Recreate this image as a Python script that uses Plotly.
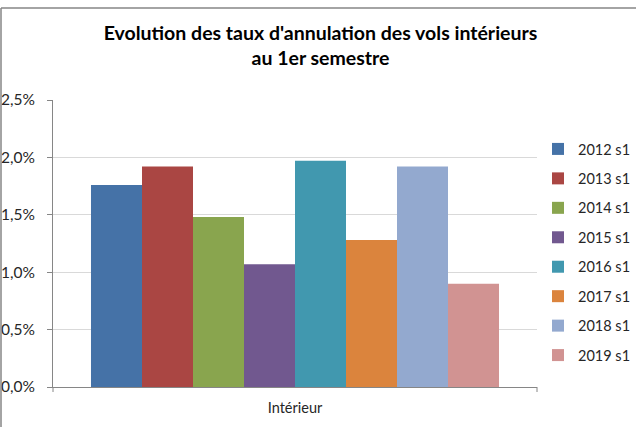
import plotly.graph_objects as go

categories = ["Intérieur"]
series_names = ["2012 s1", "2013 s1", "2014 s1", "2015 s1", "2016 s1", "2017 s1", "2018 s1", "2019 s1"]
series_values = [0.0176, 0.0192, 0.0148, 0.0107, 0.0197, 0.0128, 0.0192, 0.0090]
colors = ["#4572A7", "#AA4643", "#89A54E", "#71588F", "#4198AF", "#DB843D", "#93A9CF", "#D19392"]
tick_vals = [0, 0.005, 0.01, 0.015, 0.02, 0.025]

W, H = 636, 427
ml, mr, mt, mb = 53, 99, 100, 40
pw, ph = W - ml - mr, H - mt - mb

fig = go.Figure()
for i, (name, val, col) in enumerate(zip(series_names, series_values, colors)):
    fig.add_trace(go.Bar(
        x=categories, y=[val], name=name, marker_color=col,
        marker_line_width=0, legendgroup=name,
    ))

fig.update_layout(
    width=W, height=H,
    margin=dict(l=ml, r=mr, t=mt, b=mb, autoexpand=False),
    paper_bgcolor="white", plot_bgcolor="white",
    barmode="group", bargap=0.157, bargroupgap=0,
    separators=", ",
    font=dict(family="Lato, Carlito, sans-serif", size=13, color="#262626"),
    title=dict(
        text="Evolution des taux d'annulation des vols intérieurs<br>au 1er semestre",
        x=(106 + 535) / 2 / W, xanchor="center", y=1 - 40 / H, yanchor="top",
        font=dict(family="Lato, sans-serif", size=19.5, color="#000000", weight="bold"),
    ),
    legend=dict(
        x=(538 - ml) / pw, xanchor="left", y=(H - mb - 133) / ph, yanchor="top",
        font=dict(size=14.5, color="#262626"), tracegroupgap=7.6,
        itemwidth=30, bgcolor="rgba(0,0,0,0)",
    ),
    showlegend=True,
)

fig.update_yaxes(
    range=[0, 0.025], tickvals=tick_vals, tickformat=".1%",
    showgrid=True, gridcolor="#D9D9D9", gridwidth=1,
    showline=True, linecolor="#868686", linewidth=1,
    ticks="outside", ticklen=5, tickcolor="#868686",
    ticklabelstandoff=9,
    tickfont=dict(size=15.5, color="#262626"), zeroline=False,
)
fig.update_xaxes(
    showline=True, linecolor="#868686", linewidth=1,
    ticks="", ticklabelstandoff=8,
    tickfont=dict(size=14.5, color="#262626"),
)

# x-axis end tick marks
for xp in [0, 1]:
    fig.add_shape(type="line", xref="paper", yref="paper",
                  x0=xp, x1=xp, y0=0, y1=-5 / ph,
                  line=dict(color="#868686", width=1))

# chart area border (left and top visible)
fig.add_shape(type="line", xref="paper", yref="paper",
              x0=(1 - ml) / pw, x1=(1 - ml) / pw,
              y0=(H - mb - 8) / ph, y1=(H - mb - 430) / ph,
              line=dict(color="#868686", width=1.5))
fig.add_shape(type="line", xref="paper", yref="paper",
              x0=(1 - ml) / pw, x1=(640 - ml) / pw,
              y0=(H - mb - 8) / ph, y1=(H - mb - 8) / ph,
              line=dict(color="#868686", width=1.5))

fig.write_html("out.html", config={"displayModeBar": False},
               post_script="document.body.style.margin='0';")
